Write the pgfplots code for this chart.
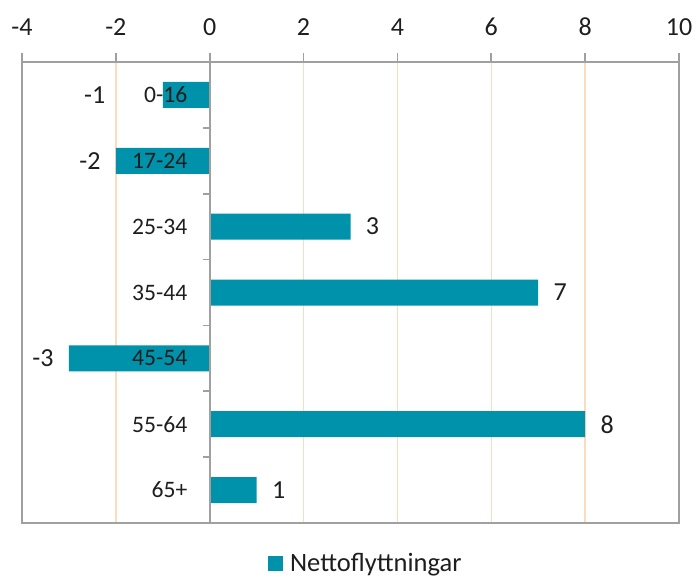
\documentclass[border=0pt]{standalone}
\usepackage{fontspec}
\setmainfont{Carlito}
\usepackage{pgfplots}
\usepackage{pgfplotstable}
\pgfplotsset{compat=1.18}
\definecolor{teal1}{HTML}{0092AA}
\definecolor{grid1}{HTML}{FBDCBC}
\definecolor{axgray}{HTML}{A0A0A0}
\definecolor{txt}{HTML}{1E1E1E}
% negative values
\pgfplotstableread{
y x s lab
0 -1 -28.5 -1
1 -2 -7.5 -2
4 -3 -7.5 -3
}\negtab
% positive values
\pgfplotstableread{
y x s lab
2 3 7.5 3
3 7 7.5 7
5 8 7.5 8
6 1 7.5 1
}\postab
\begin{document}
\begin{tikzpicture}
\begin{axis}[
 name=ax,
 scale only axis, width=328.5pt, height=230.5pt,
 xbar, bar width=13pt, bar shift=0pt,
 xmin=-4, xmax=10, ymin=-0.5, ymax=6.5, y dir=reverse,
 xtick={-4,-2,...,10}, xticklabels={-4,-2,0,2,4,6,8,10},
 xtick pos=upper, xticklabel pos=upper,
 tick align=outside, major tick length=4.5pt,
 ytick=\empty,
 xmajorgrids, major grid style={grid1, line width=0.75pt},
 axis line style={axgray, line width=0.8pt},
 tick style={axgray, line width=0.8pt},
 xticklabel style={font=\fontsize{13}{15}\selectfont, text=txt, yshift=5pt},
 legend style={draw=none, at={(0.522,-0.088)}, anchor=center,
   font=\fontsize{13.25}{15}\selectfont, text=txt, inner sep=0pt,
   nodes={inner sep=0pt}, column sep=3.5pt},
]
\addplot[fill=teal1, draw=none, forget plot,
  point meta=explicit symbolic,
  nodes near coords,
  visualization depends on={\thisrow{s} \as \myshift},
  every node near coord/.append style={font=\fontsize{13}{15}\selectfont, text=txt, inner sep=0pt, anchor=east, xshift=\myshift pt}]
  table[x=x, y=y, meta=lab] {\negtab};
\addplot[fill=teal1, draw=none, forget plot,
  point meta=explicit symbolic,
  nodes near coords,
  visualization depends on={\thisrow{s} \as \myshift},
  every node near coord/.append style={font=\fontsize{13}{15}\selectfont, text=txt, inner sep=0pt, anchor=west, xshift=\myshift pt}]
  table[x=x, y=y, meta=lab] {\postab};
\addlegendimage{legend image code/.code={\fill[teal1] (0pt,-3.5pt) rectangle (7pt,3.5pt);}}
\addlegendentry{Nettoflyttningar}
\draw[axgray, line width=0.8pt] (axis cs:0,-0.5) -- (axis cs:0,6.5);
\pgfplotsinvokeforeach{0.5,1.5,2.5,3.5,4.5,5.5}{
  \draw[axgray, line width=0.8pt] (axis cs:0,#1) -- ++(-3.5pt,0pt);
}
\begin{scope}[every node/.style={anchor=east, inner sep=0pt, xshift=-11pt, text=txt, font=\fontsize{11.8}{14}\selectfont}]
\node at (axis cs:0,0) {0-16};
\node at (axis cs:0,1) {17-24};
\node at (axis cs:0,2) {25-34};
\node at (axis cs:0,3) {35-44};
\node at (axis cs:0,4) {45-54};
\node at (axis cs:0,5) {55-64};
\node at (axis cs:0,6) {65+};
\end{scope}
\end{axis}
\pgfresetboundingbox
\path[use as bounding box] ([shift={(-11pt,-28pt)}]ax.south west) rectangle ([shift={(8.5pt,31pt)}]ax.north east);
\end{tikzpicture}
\end{document}
